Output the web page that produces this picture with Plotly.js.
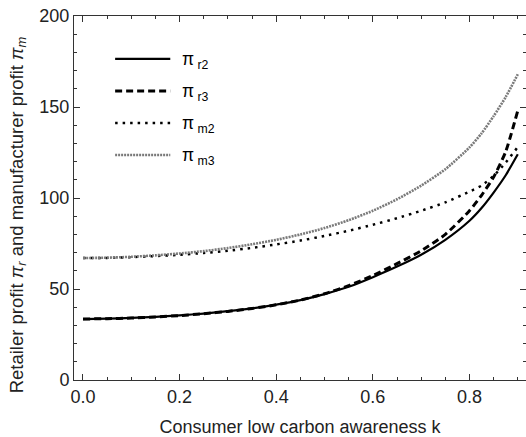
<!DOCTYPE html>
<html>
<head>
<meta charset="utf-8">
<script src="https://cdn.plot.ly/plotly-3.0.1.min.js"></script>
<style>html,body{margin:0;padding:0;background:#fff;}#chart{width:526px;height:437px;}</style>
</head>
<body>
<div id="chart"></div>
<script>
// Consumer low carbon awareness k
const k = [0, 0.05, 0.1, 0.15, 0.2, 0.25, 0.3, 0.35, 0.4, 0.45, 0.5, 0.55, 0.6, 0.65, 0.7, 0.75, 0.8, 0.825, 0.85, 0.875, 0.9];
const piR2 = [33.5, 33.7, 34.1, 34.7, 35.5, 36.5, 37.8, 39.4, 41.4, 43.9, 47.2, 51.2, 56.5, 62.3, 68.8, 77.0, 87.5, 94.5, 103, 112.5, 124];
const piR3 = [33.5, 33.7, 34.0, 34.6, 35.4, 36.4, 37.7, 39.3, 41.3, 43.9, 47.4, 51.8, 57.4, 63.9, 71.0, 80.0, 93.0, 101.5, 111.5, 125.5, 148];
const piM2 = [67.0, 67.1, 67.5, 68.1, 68.8, 69.8, 71.0, 72.6, 74.5, 76.6, 79.2, 82.0, 85.3, 88.9, 93.0, 97.6, 103.5, 106.8, 112.2, 119.5, 128];
const piM3 = [67.0, 67.2, 67.7, 68.5, 69.5, 70.8, 72.5, 74.6, 77.0, 80.0, 83.5, 87.8, 93.0, 99.3, 106.8, 115.8, 127.8, 135.5, 145.0, 155.5, 168];
const seriesNames = ['π<sub> r2</sub>', 'π<sub> r3</sub>', 'π<sub> m2</sub>', 'π<sub> m3</sub>'];
const xTicks = [0, 0.2, 0.4, 0.6, 0.8];
const xTickText = ['0.0', '0.2', '0.4', '0.6', '0.8'];
const yTicks = [0, 50, 100, 150, 200];
const xTitle = 'Consumer low carbon awareness k';
const yTitle = 'Retailer profit <i>π<sub>r</sub></i> and manufacturer profit <i>π<sub>m</sub></i>';

const FONT = 'Liberation Sans, Arial, sans-serif';
const styles = [
  {color: '#000000', width: 2.2, dash: 'solid'},
  {color: '#000000', width: 3, dash: '7px,4px'},
  {color: '#000000', width: 2.5, dash: '2.5px,5px'},
  {color: '#7a7a7a', width: 2.6, dash: '2px,1px'}
];
const ys = [piR2, piR3, piM2, piM3];

const traces = ys.map((y, i) => ({
  x: k, y: y, type: 'scatter', mode: 'lines', name: seriesNames[i],
  line: {color: styles[i].color, width: styles[i].width, dash: styles[i].dash, shape: 'spline', smoothing: 0.6},
  showlegend: false, hoverinfo: 'skip'
}));

// manual legend (paper coords)
const legY = [0.882, 0.794, 0.706, 0.618];
const shapes = [];
const annotations = [];
styles.forEach((s, i) => {
  shapes.push({type: 'line', xref: 'paper', yref: 'paper', x0: 0.091, x1: 0.213, y0: legY[i], y1: legY[i],
    line: {color: s.color, width: s.width, dash: s.dash}});
  annotations.push({xref: 'paper', yref: 'paper', x: 0.235, y: legY[i] - 0.004, xanchor: 'left', yanchor: 'middle',
    text: seriesNames[i], showarrow: false, font: {size: 17.5, color: '#000', family: FONT}});
});
// y-axis title as a rotated annotation
annotations.push({xref: 'paper', yref: 'paper', x: -0.124, y: 0.455, xanchor: 'center', yanchor: 'middle',
  textangle: -90, text: yTitle, showarrow: false, font: {size: 18.5, color: '#222', family: FONT}});

const layout = {
  width: 526, height: 437,
  margin: {l: 74, r: 0, t: 16, b: 57, pad: 0},
  paper_bgcolor: '#fff', plot_bgcolor: '#fff',
  font: {family: FONT, size: 16, color: '#222'},
  showlegend: false,
  xaxis: {
    range: [-0.0186, 0.917], tickvals: xTicks, ticktext: xTickText,
    ticks: 'inside', ticklen: 6, tickwidth: 1, tickcolor: '#333',
    showline: true, linecolor: '#333', linewidth: 1, mirror: 'ticks',
    showgrid: false, zeroline: false,
    minor: {dtick: 0.05, tick0: 0, ticks: 'inside', ticklen: 3, tickcolor: '#333', showgrid: false},
    tickfont: {size: 18, color: '#222'},
    title: {text: xTitle, font: {size: 18, color: '#222'}, standoff: 15}
  },
  yaxis: {
    range: [0, 200], tickvals: yTicks,
    ticks: 'inside', ticklen: 6, tickwidth: 1, tickcolor: '#333',
    showline: true, linecolor: '#333', linewidth: 1, mirror: 'ticks',
    showgrid: false, zeroline: false,
    minor: {dtick: 10, tick0: 0, ticks: 'inside', ticklen: 3, tickcolor: '#333', showgrid: false},
    tickfont: {size: 18, color: '#222'}
  },
  shapes: shapes,
  annotations: annotations
};

Plotly.newPlot('chart', traces, layout, {staticPlot: true, displayModeBar: false});
</script>
</body>
</html>
